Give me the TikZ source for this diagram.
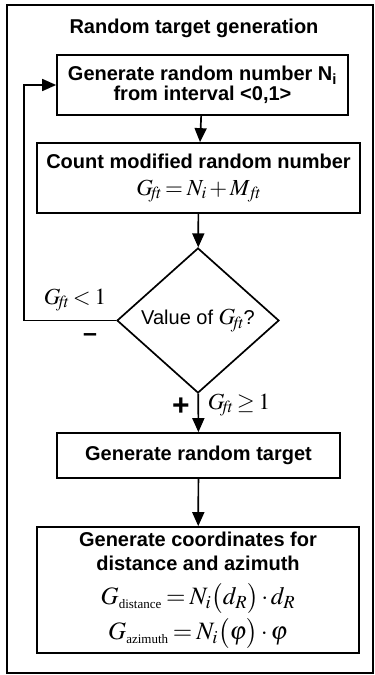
\documentclass[tikz,border=0pt]{standalone}
\usepackage{mathptmx}
\usepackage{fontspec}
\setmainfont{Liberation Sans}
\newfontfamily\tnr{Liberation Serif}
\usetikzlibrary{shapes.geometric,arrows.meta}
\newcommand{\subw}[1]{\mbox{\tnr\fontsize{13}{13}\selectfont #1}}
\newcommand{\tightm}{\medmuskip=2mu\thickmuskip=3mu}
\begin{document}
\begin{tikzpicture}[x=1pt,y=-1pt,
  every node/.style={font=\fontsize{20}{20}\selectfont},
  box/.style={draw,line width=1.7pt,rectangle,inner sep=0pt,align=center,font=\fontsize{20}{20}\selectfont\bfseries},
  arr/.style={line width=1.7pt,-{Triangle[length=14pt,width=12pt]}},
  lbl/.style={inner sep=0pt},
  mth/.style={font=\fontsize{23}{23}\selectfont\tightm},
  sgn/.style={inner sep=0pt,font=\fontsize{30}{30}\selectfont\bfseries}
]
\useasboundingbox (0,0) rectangle (375,675);
\draw[line width=1.7pt] (7,5) rectangle (373,673);
\node[lbl,font=\fontsize{20}{20}\selectfont\bfseries] (title) at (194,28) {Random target generation};
\node[box,minimum width=291pt,minimum height=60pt] (b1) at (202.5,85)
  {Generate random number N\textsubscript{i}\\from interval <0,1>};
\node[box,minimum width=323pt,minimum height=70pt] (b2) at (198.5,178)
  {Count modified random number\\[7pt]
   {\fontsize{23}{23}\selectfont\mdseries\tightm$G_{\!\mathit{ft}} = N_i + M_{\,\mathit{ft}}$}};
\node[draw,diamond,line width=1.7pt,inner sep=0pt,minimum width=162pt,minimum height=145pt,aspect=1.117] (d) at (198,320.5)
  {Value of {\fontsize{23}{23}\selectfont$G_{\!\mathit{ft}}$}?};
\node[box,minimum width=283pt,minimum height=45pt] (b3) at (198.5,455.5) {Generate random target};
\node[box,minimum width=322pt,minimum height=126pt,font=\fontsize{20}{24}\selectfont\bfseries] (b4) at (198,590)
  {Generate coordinates for\\distance and azimuth\\[10pt]
   {\fontsize{25}{25}\selectfont\mdseries\tightm$G_{\subw{distance}} = N_i\bigl(d_R\bigr)\cdot d_R$}\\[4pt]
   {\fontsize{25}{25}\selectfont\mdseries\tightm$G_{\subw{azimuth}} = N_i\bigl(\varphi\bigr)\cdot \varphi$}};
\draw[arr] (b1) -- (b2);
\draw[arr] (b2) -- (d);
\draw[arr] (d) -- (b3);
\draw[arr] (b3) -- (b4);
\draw[arr] (d.west) -- ++(-92,0) |- (b1.west);
\node[lbl,mth] (lt) at (75,300) {$G_{\!\mathit{ft}} < 1$};
\node[lbl,mth] (ge) at (239,405) {$G_{\!\mathit{ft}} \geq 1$};
\node[lbl,font=\fontsize{25}{25}\selectfont\bfseries] (minus) at (90,338) {–};
\node[sgn] (plus) at (181,407) {+};
\end{tikzpicture}
\end{document}
